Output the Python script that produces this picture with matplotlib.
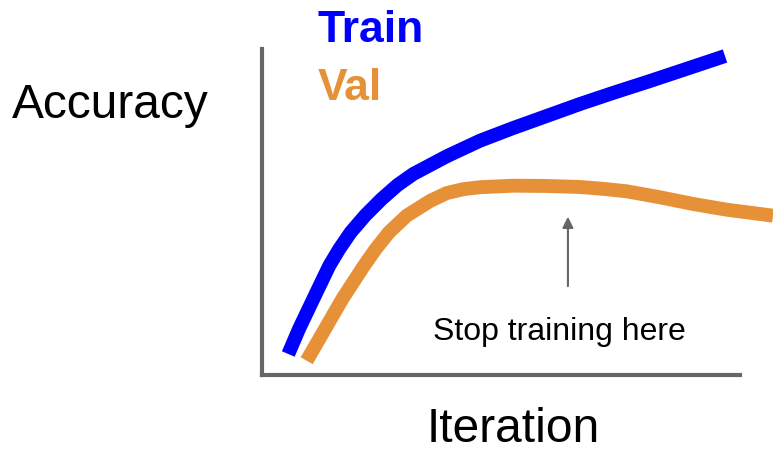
import matplotlib.pyplot as plt

plt.rcParams['font.family'] = ['Liberation Sans', 'DejaVu Sans']

# schematic curves (iteration on x, accuracy on y, both 0-100 within the axes)
train_iter = [5.50, 7.74, 10.73, 14.08, 16.17, 18.56, 21.55, 25.04, 28.3, 31.65,
              38.64, 45.61, 52.57, 59.56, 66.53, 73.8, 81.17, 89.0, 96.86]
train_acc = [6.44, 14.11, 23.31, 33.53, 38.65, 43.77, 48.87, 53.99, 58.2, 61.66,
             67.09, 71.87, 75.77, 79.45, 83.13, 86.7, 90.18, 94.0, 97.85]

val_iter = [9.35, 13.18, 16.80, 19.1, 21.34, 23.79, 26.57, 30.27, 35.15, 38.64, 42.1,
            45.61, 52.57, 59.56, 66.53, 71.4, 76.30, 83.26, 90.23, 97.22, 106.90]
val_acc = [4.39, 14.11, 23.31, 28.5, 33.53, 38.65, 43.77, 48.87, 53.37, 55.8, 57.0,
           57.6, 58.07, 57.98, 57.67, 57.1, 56.35, 54.51, 52.45, 50.71, 48.87]

stop_iter = 64.0
annotation = 'Stop training here'

fig = plt.figure(figsize=(7.73, 4.52), dpi=100)
ax = fig.add_axes([262 / 773, 76 / 452, 478 / 773, 326 / 452])

ax.plot(train_iter, train_acc, color='#0000ff', lw=10, solid_capstyle='butt',
        solid_joinstyle='round', clip_on=False)
ax.plot(val_iter, val_acc, color='#e69138', lw=10, solid_capstyle='butt',
        solid_joinstyle='round', clip_on=False)

ax.annotate('', xy=(stop_iter, 49.4), xytext=(stop_iter, 26.4),
            arrowprops=dict(arrowstyle='-|>', color='#666666', lw=1.5,
                            mutation_scale=16))
ax.text(62.3, 13.5, annotation, fontsize=23, ha='center', va='center')

ax.set_xlim(0, 100)
ax.set_ylim(0, 100)
ax.set_xticks([])
ax.set_yticks([])
for side in ['top', 'right']:
    ax.spines[side].set_visible(False)
for side in ['left', 'bottom']:
    ax.spines[side].set_color('#666666')
    ax.spines[side].set_linewidth(3)

fig.text(12 / 773, 1 - 105 / 452, 'Accuracy', fontsize=34.5, ha='left', va='center')
fig.text(513 / 773, 1 - 430 / 452, 'Iteration', fontsize=34.5, ha='center', va='center')
fig.text(318 / 773, 1 - 30 / 452, 'Train', fontsize=32, fontweight='bold',
         color='#0000ff', ha='left', va='center')
fig.text(318 / 773, 1 - 88 / 452, 'Val', fontsize=32, fontweight='bold',
         color='#e69138', ha='left', va='center')

fig.savefig('out.png', dpi=100)
